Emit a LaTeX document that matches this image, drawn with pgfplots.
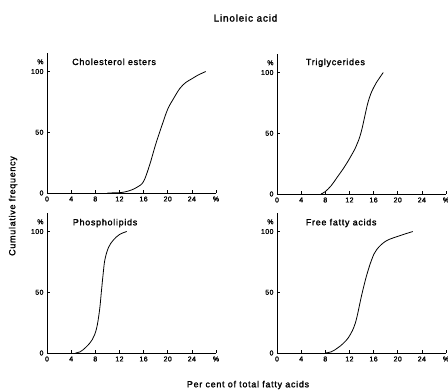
\documentclass[border=0pt]{standalone}
\usepackage{pgfplots}
\pgfplotsset{compat=1.18}
\usepackage{fontspec}
\setmainfont{Liberation Sans}
\newfontfamily\spaced[LetterSpace=8, FakeBold=1.5]{Liberation Sans}
\newfontfamily\tickfont[LetterSpace=6, FakeBold=1.5]{Liberation Sans}
\pgfplotsset{
  panel/.style={
    scale only axis, width=169bp, height=139.7bp,
    xmin=0, xmax=28, ymin=0, ymax=115,
    axis x line=bottom, axis y line=left,
    axis line style={-, line width=0.9pt},
    tick align=inside,
    xtick={0,4,...,24}, ytick={0,50,100},
    extra x ticks={28}, extra x tick labels={\%},
    extra y ticks={108}, extra y tick labels={\%},
    extra y tick style={major tick length=0pt},
    major tick length=3bp,
    tick style={line width=0.7pt, black},
    /pgf/number format/assume math mode=true,
    ticklabel style={font=\tickfont\fontsize{7}{8}\selectfont},
    anchor=south west,
    clip=false,
  },
  curve/.style={black, line width=0.8pt, smooth, tension=0.6, no marks},
}
\begin{document}
\begin{tikzpicture}
\useasboundingbox (0bp,0bp) rectangle (448bp,391bp);
\node[font=\spaced\fontsize{10}{12}\selectfont] at (245.5bp,373bp) {Linoleic acid};
\node[font=\spaced\fontsize{9}{10}\selectfont, rotate=90] at (13bp,185bp) {Cumulative frequency};
\node[font=\spaced\fontsize{9}{10}\selectfont] at (248bp,6bp) {Per cent of total fatty acids};

% Cholesterol esters
\begin{axis}[panel, at={(47bp,198bp)}]
\addplot[curve] coordinates {(10,0)(12,0.3)(13,1)(14,2.5)(15,5)(16,9.5)(17,23)(18,40)(19,55)(20,69)(21,78)(22,86)(23,91)(24,94)(25,97)(26.3,100)};
\node[anchor=west, font=\spaced\fontsize{9}{10}\selectfont] at (axis cs:3.6,108) {Cholesterol esters};
\end{axis}

% Triglycerides
\begin{axis}[panel, at={(277bp,197bp)}]
\addplot[curve] coordinates {(7.3,0)(8,2)(9,7)(10,14)(11,21)(12,29)(13,38)(13.5,44)(14,52)(14.5,63)(15,74)(15.5,82)(16,87.5)(16.5,92)(17.6,100)};
\node[anchor=west, font=\spaced\fontsize{9}{10}\selectfont] at (axis cs:4.2,108) {Triglycerides};
\end{axis}

% Phospholipids
\begin{axis}[panel, at={(47bp,38bp)}]
\addplot[curve] coordinates {(4.7,0)(5.5,1)(6.5,5)(7.5,11)(8.2,20)(8.7,35)(9,50)(9.3,65)(9.6,77)(10.2,87)(11,93)(12,97.5)(13.2,100)};
\node[anchor=west, font=\spaced\fontsize{9}{10}\selectfont] at (axis cs:3.7,107) {Phospholipids};
\end{axis}

% Free fatty acids
\begin{axis}[panel, at={(277bp,38bp)}]
\addplot[curve] coordinates {(8,0)(9,1)(10,4)(11,8)(12,14)(13,25)(14,47)(14.8,63)(15.7,77)(16.5,85)(18,92)(20,96)(22.5,100)};
\node[anchor=west, font=\spaced\fontsize{9}{10}\selectfont] at (axis cs:4.2,107) {Free fatty acids};
\end{axis}
\end{tikzpicture}
\end{document}
